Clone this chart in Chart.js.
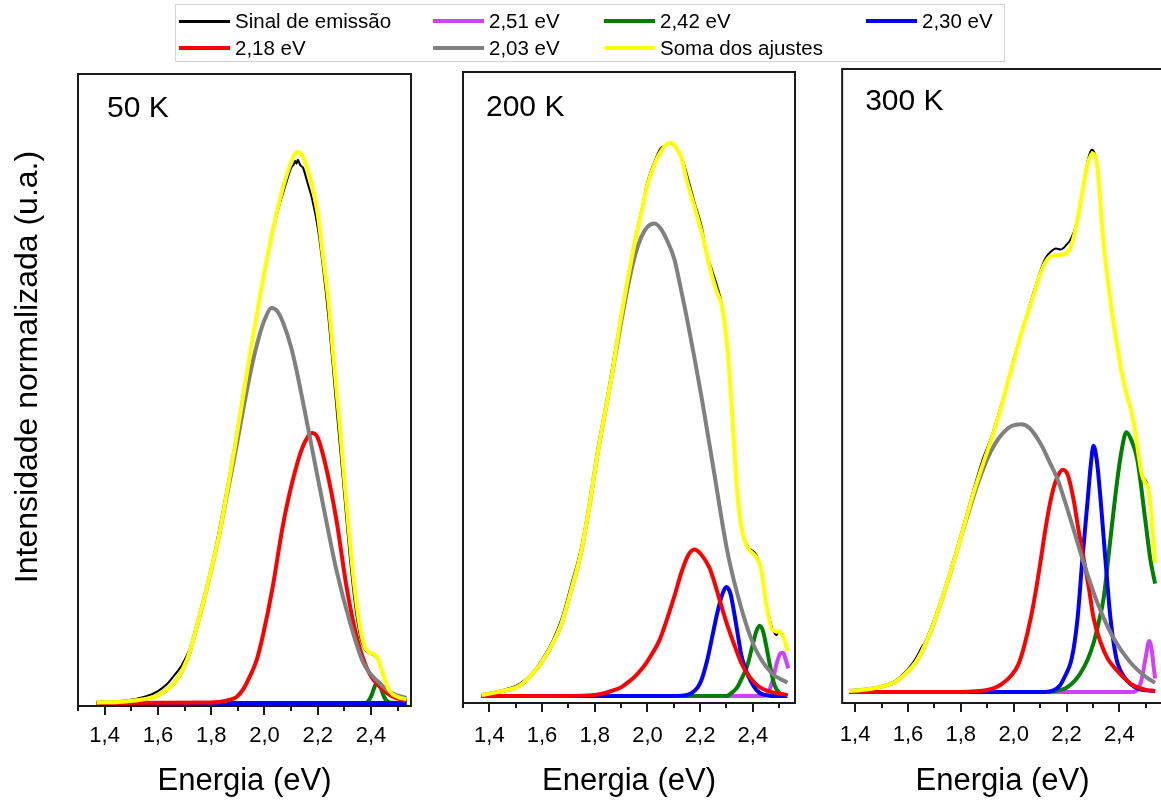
<!DOCTYPE html>
<html>
<head>
<meta charset="utf-8">
<script src="https://cdn.jsdelivr.net/npm/chart.js@4.4.1/dist/chart.umd.min.js"></script>
<style>
  html, body { margin: 0; padding: 0; background: #fff; overflow: hidden; }
  #wrap { position: relative; width: 1161px; height: 800px; overflow: hidden; font-family: "Liberation Sans", Arial, sans-serif; }
  #wrap canvas { position: absolute; top: 0; }
  #legend { position: absolute; left: 175px; top: 4px; width: 830px; height: 58px; border: 1px solid #d4d4d4; box-sizing: border-box; }
  .item { position: absolute; height: 24px; display: flex; align-items: center; font-size: 20.5px; color: #000; white-space: nowrap; }
  .item .ln { display: inline-block; width: 51px; margin-right: 5px; }
</style>
</head>
<body>
<div id="wrap">
  <canvas id="c50" width="420" height="800" style="left:0"></canvas>
  <canvas id="c200" width="380" height="800" style="left:430px"></canvas>
  <canvas id="c300" width="345" height="800" style="left:820px"></canvas>
  <div id="legend"></div>
</div>
<script>
// legend / series
const seriesNames = ['Sinal de emissão', '2,51 eV', '2,42 eV', '2,30 eV', '2,18 eV', '2,03 eV', 'Soma dos ajustes'];
const seriesColors = ['#000000', '#d040ff', '#008000', '#0000ff', '#ff0000', '#808080', '#ffff00'];
const seriesWidths = [2, 4, 4, 4, 4, 4, 4];
const seriesOrder = [6, 5, 4, 3, 2, 1, 0]; // lower = drawn on top

// x axis
const majorTicks = [1.4, 1.6, 1.8, 2.0, 2.2, 2.4];
const tickLabels = ['1,4', '1,6', '1,8', '2,0', '2,2', '2,4'];
const minorTicks = [1.3, 1.5, 1.7, 1.9, 2.1, 2.3, 2.5];

// ---- 50 K ----
const k50_sinal = [[1.37,0.001],[1.45,0.003],[1.52,0.008],[1.56,0.013],[1.6,0.022],[1.63,0.033],[1.66,0.05],[1.69,0.07],[1.72,0.1],[1.75,0.145],[1.78,0.205],[1.81,0.27],[1.84,0.345],[1.87,0.425],[1.9,0.51],[1.93,0.6],[1.96,0.685],[1.99,0.765],[2.02,0.84],[2.05,0.905],[2.08,0.955],[2.1,0.985],[2.11,0.992],[2.115,0.998],[2.12,0.993],[2.125,1.0],[2.13,0.995],[2.135,0.99],[2.145,0.985],[2.16,0.96],[2.18,0.925],[2.2,0.875],[2.22,0.8],[2.24,0.71],[2.26,0.6],[2.28,0.49],[2.3,0.38],[2.32,0.27],[2.34,0.18],[2.36,0.12],[2.375,0.1],[2.39,0.092],[2.41,0.088],[2.425,0.08],[2.44,0.058],[2.455,0.036],[2.47,0.02],[2.5,0.01],[2.533,0.006]];
const k50_251 = [[1.37,0],[2.533,0]];
const k50_242 = [[1.37,0],[2.38,0],[2.4,0.012],[2.415,0.032],[2.425,0.039],[2.435,0.03],[2.45,0.01],[2.47,0.001],[2.533,0]];
const k50_230 = [[1.37,0],[2.533,0]];
const k50_218 = [[1.37,0],[1.8,0.001],[1.83,0.002],[1.87,0.006],[1.895,0.011],[1.92,0.025],[1.944,0.048],[1.97,0.078],[1.993,0.122],[2.031,0.214],[2.068,0.324],[2.106,0.41],[2.143,0.471],[2.18,0.497],[2.2,0.488],[2.233,0.43],[2.27,0.337],[2.308,0.214],[2.346,0.122],[2.39,0.058],[2.443,0.025],[2.48,0.012],[2.533,0.004]];
const k50_203 = [[1.37,0.001],[1.45,0.002],[1.52,0.005],[1.56,0.008],[1.6,0.014],[1.64,0.027],[1.67,0.042],[1.71,0.08],[1.74,0.13],[1.77,0.185],[1.8,0.245],[1.83,0.31],[1.86,0.385],[1.89,0.46],[1.92,0.54],[1.95,0.615],[1.98,0.675],[2.0,0.705],[2.027,0.727],[2.05,0.72],[2.07,0.7],[2.1,0.655],[2.12,0.613],[2.17,0.49],[2.22,0.365],[2.27,0.245],[2.32,0.15],[2.37,0.075],[2.42,0.042],[2.48,0.018],[2.533,0.009]];
const k50_soma = [[1.37,0.001],[1.45,0.002],[1.52,0.005],[1.56,0.008],[1.6,0.014],[1.64,0.027],[1.67,0.042],[1.71,0.08],[1.74,0.13],[1.77,0.185],[1.8,0.245],[1.83,0.31],[1.86,0.39],[1.89,0.475],[1.92,0.565],[1.95,0.655],[1.98,0.74],[2.01,0.82],[2.04,0.89],[2.07,0.95],[2.1,0.995],[2.124,1.015],[2.145,1.005],[2.16,0.985],[2.18,0.95],[2.2,0.9],[2.22,0.82],[2.24,0.74],[2.26,0.63],[2.28,0.525],[2.3,0.41],[2.32,0.3],[2.34,0.205],[2.36,0.135],[2.375,0.105],[2.39,0.094],[2.41,0.09],[2.425,0.083],[2.44,0.06],[2.455,0.038],[2.47,0.022],[2.5,0.011],[2.533,0.007]];

// ---- 200 K ----
const k200_sinal = [[1.37,0.003],[1.42,0.007],[1.46,0.012],[1.5,0.018],[1.53,0.027],[1.56,0.04],[1.6,0.066],[1.64,0.1],[1.673,0.138],[1.71,0.2],[1.749,0.27],[1.78,0.35],[1.81,0.445],[1.84,0.52],[1.863,0.585],[1.9,0.69],[1.95,0.82],[1.98,0.885],[2.0,0.93],[2.03,0.97],[2.05,0.99],[2.07,0.995],[2.085,1.0],[2.1,0.995],[2.12,0.985],[2.14,0.96],[2.16,0.925],[2.18,0.89],[2.205,0.85],[2.225,0.8],[2.245,0.77],[2.265,0.74],[2.284,0.705],[2.303,0.635],[2.322,0.51],[2.341,0.37],[2.36,0.3],[2.379,0.272],[2.413,0.255],[2.432,0.23],[2.451,0.168],[2.474,0.122],[2.49,0.11],[2.5,0.118],[2.519,0.105],[2.531,0.083]];
const k200_251 = [[1.37,0],[2.44,0],[2.46,0.008],[2.475,0.028],[2.49,0.058],[2.505,0.077],[2.515,0.078],[2.525,0.065],[2.535,0.05]];
const k200_242 = [[1.37,0],[2.3,0],[2.318,0.005],[2.34,0.015],[2.356,0.03],[2.379,0.055],[2.398,0.09],[2.412,0.115],[2.425,0.127],[2.438,0.118],[2.451,0.09],[2.465,0.055],[2.482,0.02],[2.5,0.006],[2.52,0.002],[2.531,0]];
const k200_230 = [[1.37,0],[2.1,0],[2.15,0.002],[2.167,0.005],[2.19,0.015],[2.205,0.029],[2.227,0.065],[2.245,0.105],[2.265,0.15],[2.285,0.185],[2.299,0.197],[2.315,0.185],[2.33,0.148],[2.345,0.105],[2.356,0.074],[2.375,0.045],[2.394,0.025],[2.415,0.01],[2.432,0.004],[2.47,0],[2.531,0]];
const k200_218 = [[1.37,0],[1.7,0],[1.8,0.002],[1.836,0.005],[1.87,0.01],[1.901,0.016],[1.93,0.026],[1.95,0.034],[1.975,0.047],[1.996,0.06],[2.02,0.078],[2.045,0.1],[2.075,0.14],[2.102,0.18],[2.13,0.225],[2.155,0.255],[2.178,0.265],[2.2,0.258],[2.235,0.232],[2.254,0.206],[2.273,0.175],[2.303,0.128],[2.33,0.092],[2.356,0.06],[2.387,0.035],[2.42,0.018],[2.47,0.007],[2.531,0.002]];
const k200_203 = [[1.37,0.002],[1.42,0.006],[1.46,0.01],[1.5,0.015],[1.53,0.024],[1.56,0.038],[1.6,0.062],[1.64,0.095],[1.673,0.13],[1.71,0.19],[1.749,0.262],[1.78,0.345],[1.81,0.436],[1.84,0.515],[1.863,0.575],[1.9,0.675],[1.93,0.75],[1.955,0.8],[1.977,0.83],[2.0,0.848],[2.026,0.854],[2.05,0.845],[2.075,0.823],[2.102,0.79],[2.125,0.74],[2.151,0.68],[2.205,0.541],[2.254,0.401],[2.303,0.262],[2.356,0.159],[2.406,0.089],[2.47,0.042],[2.531,0.024]];
const k200_soma = [[1.37,0.002],[1.42,0.006],[1.46,0.01],[1.5,0.015],[1.53,0.024],[1.56,0.038],[1.6,0.062],[1.64,0.095],[1.673,0.13],[1.71,0.19],[1.749,0.262],[1.78,0.345],[1.81,0.436],[1.84,0.515],[1.863,0.575],[1.9,0.685],[1.95,0.815],[1.98,0.88],[2.0,0.924],[2.03,0.965],[2.053,0.986],[2.075,0.998],[2.091,1.0],[2.11,0.99],[2.129,0.973],[2.151,0.929],[2.178,0.885],[2.205,0.839],[2.243,0.763],[2.265,0.729],[2.284,0.702],[2.303,0.631],[2.322,0.506],[2.341,0.367],[2.36,0.297],[2.379,0.269],[2.413,0.251],[2.432,0.228],[2.451,0.165],[2.474,0.119],[2.5,0.116],[2.519,0.103],[2.531,0.081]];

// ---- 300 K ----
const k300_sinal = [[1.377,0.003],[1.45,0.006],[1.5,0.011],[1.55,0.02],[1.6,0.042],[1.63,0.062],[1.655,0.085],[1.663,0.09],[1.7,0.135],[1.753,0.21],[1.8,0.29],[1.84,0.36],[1.88,0.425],[1.915,0.47],[1.95,0.525],[1.979,0.575],[2.0,0.615],[2.028,0.662],[2.077,0.74],[2.1,0.775],[2.12,0.8],[2.14,0.812],[2.16,0.818],[2.178,0.816],[2.2,0.825],[2.216,0.835],[2.235,0.86],[2.253,0.905],[2.268,0.95],[2.28,0.98],[2.295,1.0],[2.305,0.995],[2.317,0.972],[2.34,0.83],[2.36,0.748],[2.377,0.686],[2.415,0.576],[2.453,0.502],[2.486,0.402],[2.509,0.378],[2.52,0.332],[2.535,0.24]];
const k300_251 = [[1.377,0],[2.45,0],[2.47,0.005],[2.485,0.025],[2.5,0.065],[2.513,0.094],[2.523,0.075],[2.53,0.045],[2.535,0.025]];
const k300_242 = [[1.377,0],[2.13,0],[2.17,0.003],[2.2,0.008],[2.23,0.02],[2.253,0.035],[2.28,0.06],[2.302,0.09],[2.32,0.125],[2.34,0.172],[2.366,0.282],[2.392,0.391],[2.41,0.45],[2.426,0.479],[2.445,0.465],[2.468,0.428],[2.498,0.317],[2.517,0.245],[2.535,0.2]];
const k300_230 = [[1.377,0],[2.1,0],[2.15,0.003],[2.175,0.012],[2.195,0.03],[2.216,0.055],[2.23,0.09],[2.242,0.137],[2.26,0.245],[2.28,0.354],[2.292,0.42],[2.302,0.454],[2.315,0.425],[2.329,0.354],[2.347,0.245],[2.366,0.137],[2.38,0.085],[2.392,0.055],[2.415,0.03],[2.441,0.015],[2.47,0.006],[2.505,0.003],[2.535,0.002]];
const k300_218 = [[1.377,0],[1.8,0],[1.904,0.004],[1.93,0.008],[1.953,0.014],[1.99,0.03],[2.017,0.05],[2.04,0.085],[2.065,0.137],[2.085,0.19],[2.103,0.245],[2.12,0.3],[2.14,0.354],[2.16,0.39],[2.186,0.41],[2.205,0.4],[2.227,0.354],[2.245,0.3],[2.265,0.245],[2.285,0.19],[2.302,0.137],[2.33,0.09],[2.355,0.062],[2.39,0.04],[2.42,0.025],[2.45,0.013],[2.5,0.004],[2.535,0.002]];
const k300_203 = [[1.377,0.002],[1.45,0.005],[1.5,0.01],[1.55,0.018],[1.6,0.038],[1.63,0.055],[1.663,0.085],[1.7,0.13],[1.753,0.208],[1.8,0.285],[1.84,0.348],[1.87,0.392],[1.9,0.43],[1.93,0.458],[1.96,0.478],[1.99,0.49],[2.028,0.494],[2.06,0.487],[2.103,0.457],[2.135,0.425],[2.167,0.391],[2.216,0.317],[2.265,0.238],[2.317,0.164],[2.377,0.1],[2.441,0.055],[2.505,0.026],[2.535,0.017]];
const k300_soma = [[1.377,0.002],[1.45,0.005],[1.5,0.01],[1.55,0.018],[1.6,0.038],[1.63,0.055],[1.663,0.085],[1.7,0.13],[1.753,0.208],[1.8,0.285],[1.84,0.354],[1.88,0.415],[1.915,0.465],[1.95,0.52],[1.979,0.574],[2.0,0.61],[2.028,0.66],[2.077,0.734],[2.1,0.77],[2.129,0.799],[2.15,0.805],[2.178,0.806],[2.2,0.81],[2.216,0.821],[2.235,0.855],[2.253,0.902],[2.268,0.945],[2.28,0.974],[2.298,0.993],[2.31,0.985],[2.317,0.967],[2.34,0.828],[2.36,0.745],[2.377,0.683],[2.415,0.574],[2.453,0.5],[2.486,0.399],[2.5,0.385],[2.509,0.376],[2.52,0.33],[2.535,0.238]];

const FONT = '"Liberation Sans", Arial, sans-serif';

// box, tick marks, panel label and (first panel) the y title
const framePlugin = {
  id: 'frame',
  afterDraw(chart, args, opts) {
    const ctx = chart.ctx;
    const a = chart.chartArea;
    const x = chart.scales.x;
    ctx.save();
    ctx.strokeStyle = '#1a1a1a';
    ctx.lineWidth = 2;
    ctx.strokeRect(a.left, a.top, a.right - a.left, a.bottom - a.top);
    ctx.beginPath();
    const marks = majorTicks.map(v => [v, 9]).concat(minorTicks.map(v => [v, 5]));
    marks.forEach(([v, len]) => {
      if (v < x.min || v > x.max) return;
      const px = Math.round(x.getPixelForValue(v));
      ctx.moveTo(px, a.bottom);
      ctx.lineTo(px, a.bottom + len);
    });
    ctx.stroke();
    ctx.fillStyle = '#000';
    ctx.font = '30px ' + FONT;
    ctx.textBaseline = 'alphabetic';
    ctx.fillText(opts.label, a.left + opts.labelDx, opts.labelY);
    if (opts.yTitle) {
      ctx.translate(opts.yTitleX, opts.yTitleY);
      ctx.rotate(-Math.PI / 2);
      ctx.font = '32px ' + FONT;
      ctx.textAlign = 'center';
      ctx.textBaseline = 'middle';
      ctx.fillText(opts.yTitle, 0, 0);
    }
    ctx.restore();
  }
};

function makeChart(id, series, p) {
  const datasets = series.map((pts, i) => ({
    label: seriesNames[i],
    data: pts.map(([e, v]) => ({ x: e, y: v })),
    borderColor: seriesColors[i],
    borderWidth: seriesWidths[i],
    pointRadius: 0,
    fill: false,
    cubicInterpolationMode: 'monotone',
    order: seriesOrder[i]
  }));
  return new Chart(document.getElementById(id).getContext('2d'), {
    type: 'line',
    data: { datasets: datasets },
    options: {
      responsive: false,
      animation: false,
      layout: { padding: { left: p.padLeft, right: p.padRight, top: p.padTop, bottom: 0 } },
      plugins: {
        legend: { display: false },
        tooltip: { enabled: false },
        frame: p.frame
      },
      scales: {
        x: {
          type: 'linear',
          min: p.xMin,
          max: p.xMax,
          grid: { display: false, drawTicks: false },
          border: { display: false },
          afterBuildTicks: axis => { axis.ticks = majorTicks.map(v => ({ value: v })); },
          afterFit: scale => { scale.height = p.axisHeight; },
          ticks: {
            autoSkip: false,
            maxRotation: 0,
            padding: p.tickPad,
            color: '#000',
            font: { family: FONT, size: 22 },
            callback: (v, i) => tickLabels[i]
          },
          title: {
            display: true,
            text: 'Energia (eV)',
            color: '#000',
            font: { family: FONT, size: 31 },
            padding: { top: 0, bottom: 0 }
          }
        },
        y: { display: false, min: p.yMin, max: p.yMax }
      }
    },
    plugins: [framePlugin]
  });
}

makeChart('c50', [k50_sinal, k50_251, k50_242, k50_230, k50_218, k50_203, k50_soma], {
  padLeft: 78, padRight: 9, padTop: 74, axisHeight: 94, tickPad: 17,
  xMin: 1.3, xMax: 2.55, yMin: -0.0055, yMax: 1.158,
  frame: { label: '50 K', labelDx: 29, labelY: 117, yTitle: 'Intensidade normalizada (u.a.)', yTitleX: 28, yTitleY: 367 }
});
makeChart('c200', [k200_sinal, k200_251, k200_242, k200_230, k200_218, k200_203, k200_soma], {
  padLeft: 33, padRight: 15, padTop: 72, axisHeight: 97, tickPad: 20,
  xMin: 1.3, xMax: 2.56, yMin: -0.0127, yMax: 1.128,
  frame: { label: '200 K', labelDx: 23, labelY: 116 }
});
makeChart('c300', [k300_sinal, k300_251, k300_242, k300_230, k300_218, k300_203, k300_soma], {
  padLeft: 20, padRight: 2, padTop: 69, axisHeight: 97, tickPad: 19,
  xMin: 1.351, xMax: 2.565, yMin: -0.0203, yMax: 1.149,
  frame: { label: '300 K', labelDx: 23, labelY: 110 }
});

// legend, 4 columns x 2 rows
const legendCols = [3, 257, 428, 690];
const legendRows = [4, 31];
const legend = document.getElementById('legend');
seriesNames.forEach((name, i) => {
  const item = document.createElement('div');
  item.className = 'item';
  item.style.left = legendCols[i % 4] + 'px';
  item.style.top = legendRows[Math.floor(i / 4)] + 'px';
  const ln = document.createElement('span');
  ln.className = 'ln';
  ln.style.height = (i === 0 ? 3 : 4) + 'px';
  ln.style.background = seriesColors[i];
  item.appendChild(ln);
  item.appendChild(document.createTextNode(name));
  legend.appendChild(item);
});
</script>
</body>
</html>
